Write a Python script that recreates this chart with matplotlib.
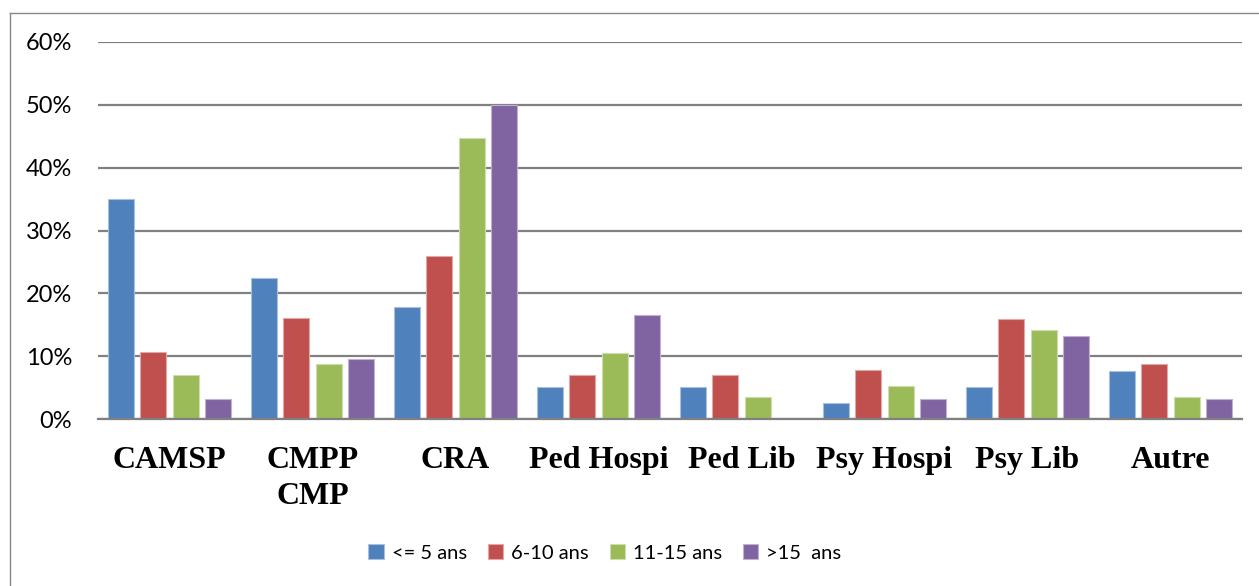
import matplotlib
matplotlib.use("Agg")
import matplotlib.pyplot as plt
from matplotlib.lines import Line2D
import numpy as np

categories = ["CAMSP", "CMPP\nCMP", "CRA", "Ped Hospi", "Ped Lib", "Psy Hospi", "Psy Lib", "Autre"]
series_names = ["<= 5 ans", "6-10 ans", "11-15 ans", ">15  ans"]
age_le5 = [35.0, 22.4, 17.9, 5.1, 5.1, 2.6, 5.1, 7.7]
age_6_10 = [10.7, 16.1, 25.9, 7.0, 7.0, 7.9, 15.9, 8.8]
age_11_15 = [7.0, 8.8, 44.7, 10.6, 3.6, 5.3, 14.2, 3.6]
age_gt15 = [3.3, 9.6, 50.0, 16.6, 0.0, 3.3, 13.3, 3.3]
yticks = [0, 10, 20, 30, 40, 50, 60]
ytick_labels = ["0%", "10%", "20%", "30%", "40%", "50%", "60%"]

colors = ["#4F81BD", "#C0504D", "#9BBB59", "#8064A2"]
edges = ["#A7C0DE", "#E0A8A6", "#CDDDAC", "#BFB1D0"]

W, H = 1259, 586
fig = plt.figure(figsize=(W / 100, H / 100), dpi=100)
ax = fig.add_axes([98 / W, 1 - 419.3 / H, (1242 - 98) / W, (419.3 - 41.7) / H])

x = np.arange(len(categories))
step = 0.227
width = 0.185
all_series = [age_le5, age_6_10, age_11_15, age_gt15]
for i, (vals, name) in enumerate(zip(all_series, series_names)):
    ax.bar(x + (i - 1.5) * step, vals, width=width, color=colors[i],
           edgecolor=edges[i], linewidth=0.8, label=name, zorder=3)

ax.set_xlim(-0.5, len(categories) - 0.5)
ax.set_ylim(0, 60)
ax.set_yticks(yticks)
ax.set_yticklabels(ytick_labels, fontfamily="Lato", fontsize=17)
ax.set_xticks(x)
ax.set_xticklabels(categories, fontfamily="Liberation Serif", fontweight="bold",
                   fontsize=23, linespacing=1.3)
ax.tick_params(axis="y", length=0, pad=26 * 0.72)
ax.tick_params(axis="x", length=0, pad=19.5)
ax.yaxis.grid(True, color="#808080", linewidth=1.6, zorder=0)
for s in ["top", "right", "left"]:
    ax.spines[s].set_visible(False)
ax.spines["bottom"].set_color("#808080")
ax.spines["bottom"].set_linewidth(1.6)
ax.spines["bottom"].set_zorder(4)

leg = fig.legend(loc="center", bbox_to_anchor=(605 / W, 1 - 553 / H), ncol=4,
                 frameon=False, prop={"family": "Lato", "size": 14.5},
                 handlelength=0.75, handleheight=0.75, handletextpad=0.4,
                 columnspacing=1.05)

# outer chart border
bx, by = 9.5 / W, 1 - 12.5 / H
fig.add_artist(Line2D([bx, bx], [0, by], transform=fig.transFigure, color="#888888", linewidth=1.0))
fig.add_artist(Line2D([bx, 1], [by, by], transform=fig.transFigure, color="#888888", linewidth=1.0))

fig.savefig("out.png", dpi=100)
